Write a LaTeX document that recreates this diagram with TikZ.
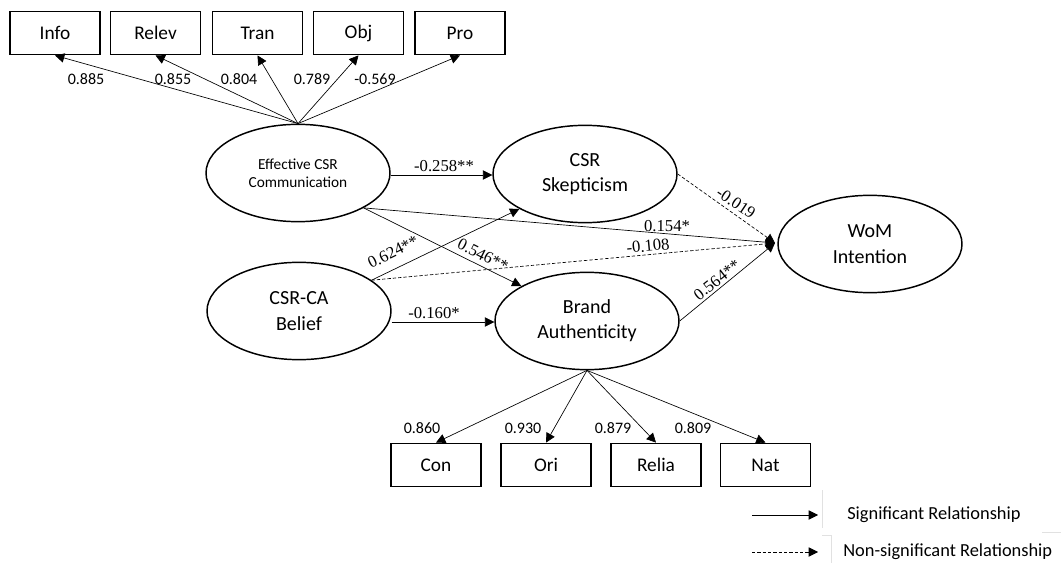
\documentclass[tikz,border=0pt]{standalone}
\usepackage{fontspec}
\setmainfont{Carlito}
\newfontfamily\coeffont{Liberation Serif}
\usetikzlibrary{shapes.geometric, arrows.meta, positioning, calc}
\definecolor{boxgray}{RGB}{225, 225, 225}

\tikzset{
  latent/.style={draw, ellipse, line width=1.1pt, minimum width=138pt,
                 minimum height=73pt, inner sep=0pt, align=center,
                 font=\fontsize{15}{19}\selectfont},
  indicator/.style={draw, rectangle, line width=1.1pt, minimum width=67.5pt,
                    minimum height=32.5pt, inner sep=0pt,
                    font=\fontsize{14.5}{17}\selectfont},
  sigpath/.style={-{Triangle[length=7pt,width=7pt]}, line width=0.5pt},
  nspath/.style={sigpath, dash pattern=on 2.5pt off 1.5pt},
  loading/.style={font=\fontsize{12}{14}\selectfont, inner sep=0pt},
  coef/.style={font=\coeffont\fontsize{12.5}{14}\selectfont, inner sep=0pt},
  legendtext/.style={anchor=west, inner sep=0pt, font=\fontsize{13.8}{16}\selectfont}
}

\begin{document}
\begin{tikzpicture}[x=0.75pt, y=-0.75pt]
    \useasboundingbox (0,0) rectangle (1061,563);
    % LATENT CONSTRUCTS
    \node[latent, font=\fontsize{11.5}{13.5}\selectfont] (ecc) at (298,173)
        {Effective CSR\\Communication};
    \node[latent] (csr) at (585,174) {CSR\\Skepticism};
    \node[latent] (cca) at (299,311) {CSR-CA\\Belief};
    \node[latent] (ba) at (587,321) {Brand\\Authenticity};
    \node[latent] (wom) at (870,244) {WoM\\Intention};
    \coordinate (wIn) at (775,243);
    % Indicators of effective CSR communication
    \node[indicator] (info) at (55,33) {Info};
    \node[indicator] (relev) at (155.5,33) {Relev};
    \node[indicator] (tran) at (257.5,33) {Tran};
    \node[indicator] (obj) at (358.5,33) {Obj};
    \node[indicator] (pro) at (460,33) {Pro};
    \foreach \ind in {info, relev, tran, obj, pro}
        \draw[sigpath] (ecc.north) -- (\ind.south);
    \node[loading] (lInfo) at (86,79) {0.885};
    \node[loading] (lRelev) at (173,79) {0.855};
    \node[loading] (lTran) at (239,79) {0.804};
    \node[loading] (lObj) at (312,79) {0.789};
    \node[loading] (lPro) at (375,79) {-0.569};
    % Indicators of brand authenticity
    \node[indicator] (con) at (436,465) {Con};
    \node[indicator] (ori) at (546,465) {Ori};
    \node[indicator] (relia) at (656,465) {Relia};
    \node[indicator] (nat) at (765.5,465) {Nat};
    \foreach \ind in {con, ori, relia, nat}
        \draw[sigpath] (ba.south) -- (\ind.north);
    \node[loading] (lCon) at (422,428) {0.860};
    \node[loading] (lOri) at (523,428) {0.930};
    \node[loading] (lRelia) at (613,428) {0.879};
    \node[loading] (lNat) at (693,428) {0.809};
    % Structural paths
    \draw[sigpath] (ecc.east |- 0,175) -- (csr.west |- 0,175);
    \node[coef] (pEccCsr) at (444,166) {-0.258**};
    \draw[sigpath] (cca.east |- 0,322) -- (ba.west |- 0,322);
    \node[coef] (pCcaBa) at (434,313) {-0.160*};
    \draw[sigpath] (ecc.-28) -- (wIn);
    \node[coef] (pEccWom) at (667,226) {0.154*};
    \draw[sigpath] (ecc.-28) -- (ba.152);
    \node[coef, rotate=-26.6] (pEccBa) at (483,255) {0.546**};
    \draw[sigpath] (cca.23) -- (csr.208);
    \node[coef, rotate=26] (pCcaCsr) at (393,252) {0.624**};
    \draw[nspath] (cca.23) -- (wIn);
    \node[coef, rotate=5.4] (pCcaWom) at (648,246) {-0.108};
    \draw[nspath] (csr.east) -- (wIn);
    \node[coef, rotate=-33.7] (pCsrWom) at (736,203) {-0.019};
    \draw[sigpath] (ba.east) -- (wIn);
    \node[coef, rotate=38.3] (pBaWom) at (717,280) {0.564**};
    % LEGEND
    \draw[boxgray, line width=0.6pt] (822,490) -- (822,528);
    \draw[boxgray, line width=0.6pt] (1042,532) -- (1061,532);
    \draw[boxgray, line width=0.6pt] (822,535) -- (831,535) -- (831,563);
    \coordinate (sigA) at (752,515);
    \coordinate (sigB) at (818,515);
    \draw[sigpath] (sigA) -- (sigB);
    \node[legendtext] (sigT) at (847,515) {Significant Relationship};
    \coordinate (nsA) at (752,552);
    \coordinate (nsB) at (818,552);
    \draw[nspath] (nsA) -- (nsB);
    \node[legendtext] (nsT) at (843,552) {Non-significant Relationship};
\end{tikzpicture}
\end{document}
